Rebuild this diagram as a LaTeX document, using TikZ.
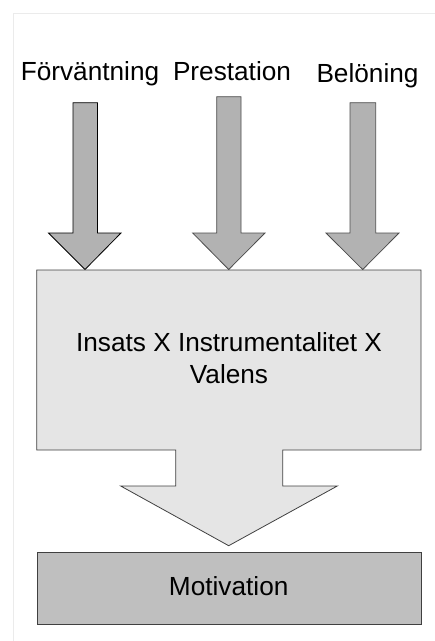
\documentclass[tikz,border=0pt]{standalone}
\usepackage{fontspec}
\setmainfont{Liberation Sans}
\begin{document}
\begin{tikzpicture}[x=1pt,y=-1pt,
  lbl/.style={inner sep=0pt,anchor=base,font=\fontsize{26.2}{31.7}\selectfont},
  smallarrow/.style={fill=black!30,draw=black!70,line width=0.8pt,line join=miter},
  bigshape/.style={fill=black!10,draw=black!75,line width=0.8pt},
  resultbox/.style={fill=black!25,draw=black!75,line width=0.8pt}]
  \useasboundingbox (0,0) rectangle (435,641);
  % faint page frame
  \draw[black!8,line width=1pt] (13,641) -- (13,13) -- (435,13);

  % factor labels
  \node[lbl] (forv) at (90,80) {Förväntning};
  \node[lbl] (prest) at (232,80) {Prestation};
  \node[lbl] (belon) at (367.5,82) {Belöning};

  % block arrows pointing into the product box
  \draw[smallarrow,draw=black] (73,102.7) -- (97.5,102.7) -- (97.5,233) -- (121,233)
    -- (85,269.5) -- (48.5,233) -- (73,233) -- cycle;
  \draw[smallarrow] (216.7,96.7) -- (241,96.7) -- (241,233) -- (265,233)
    -- (228.7,269.5) -- (192.7,233) -- (216.7,233) -- cycle;
  \draw[smallarrow] (350,102.7) -- (375.7,102.7) -- (375.7,233) -- (399,233)
    -- (362.7,269.5) -- (326,233) -- (350,233) -- cycle;

  % product box merged with its outgoing arrow
  \draw[bigshape] (36.7,270) -- (421,270) -- (421,450) -- (282.7,450) -- (282.7,486)
    -- (337.3,486) -- (228.7,545.7) -- (120.7,486) -- (175.7,486) -- (175.7,450)
    -- (36.7,450) -- cycle;
  % the base anchor of a two-line node sits on its last line
  \node[lbl,align=center] (prod) at (229,383.3) {Insats X Instrumentalitet X\\Valens};

  % result box
  \node[resultbox,minimum width=384.3pt,minimum height=71.7pt,inner sep=0pt,
    anchor=north west] (motbox) at (36.7,552.3) {};
  \node[lbl] (mot) at (228.7,595) {Motivation};
\end{tikzpicture}
\end{document}
